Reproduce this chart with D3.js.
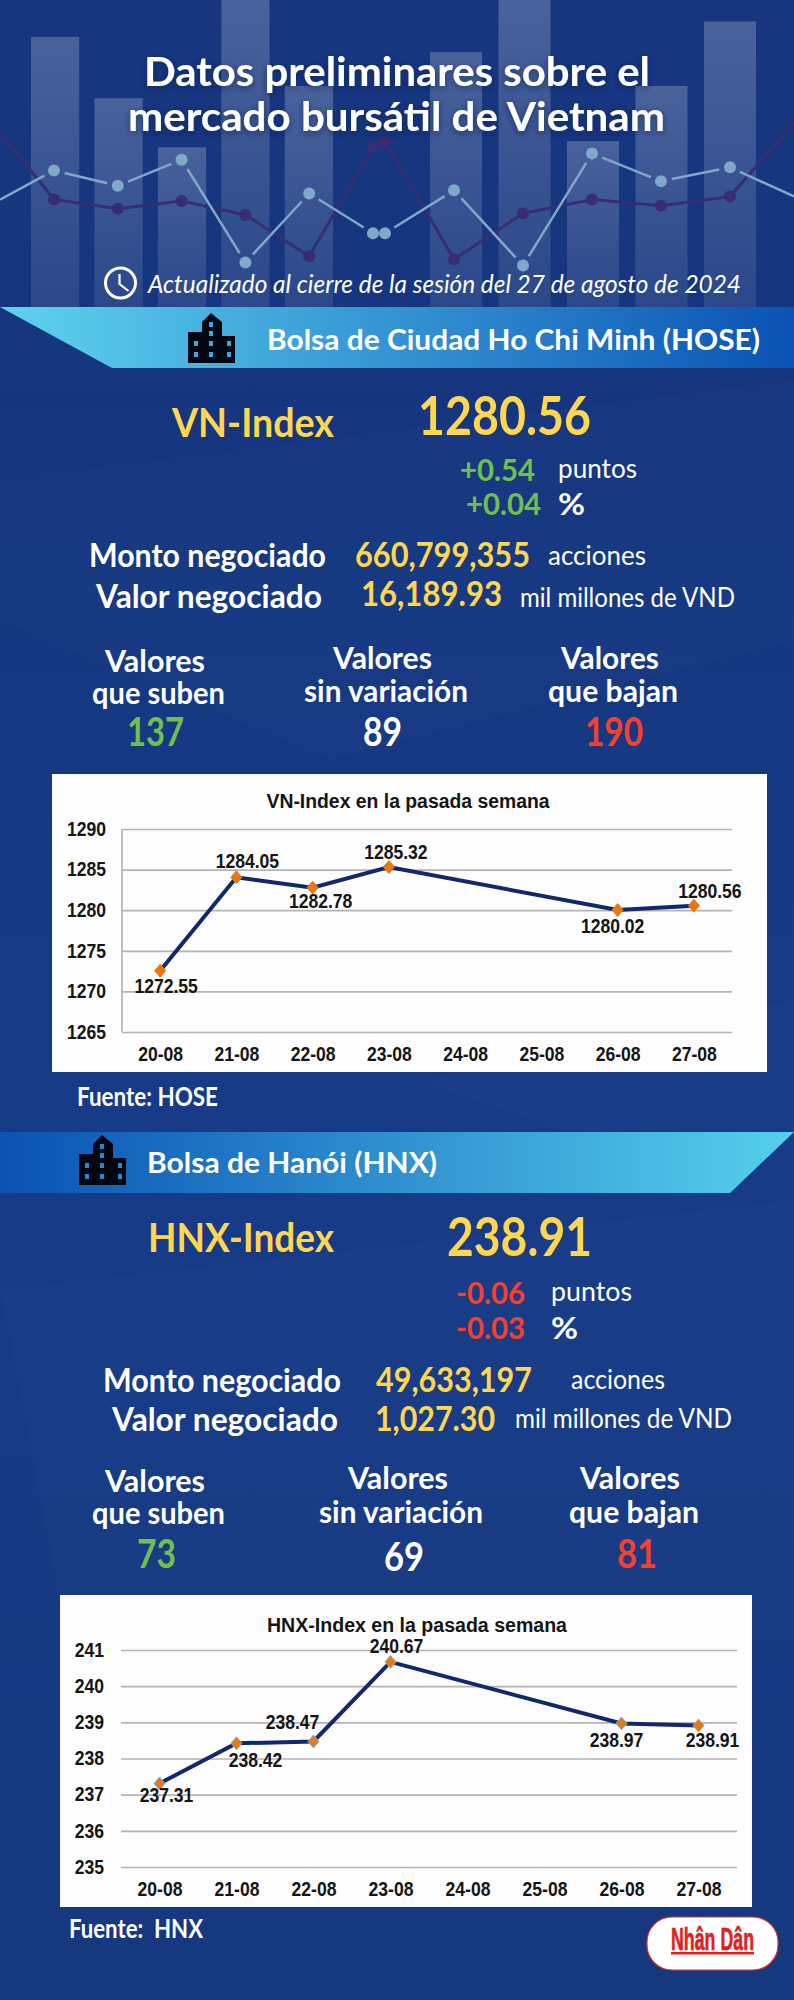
<!DOCTYPE html>
<html>
<head>
<meta charset="utf-8">
<script src="https://cdn.jsdelivr.net/npm/d3@7"></script>
<style>
    html, body { margin: 0; padding: 0; background: #163a85; }
    svg { display: block; }
    text { white-space: pre; }
</style>
</head>
<body>
<div id="chart"></div>
<script>
// chart values
const days = ["20-08", "21-08", "22-08", "23-08", "24-08", "25-08", "26-08", "27-08"];
const vnValues = [1272.55, 1284.05, 1282.78, 1285.32, null, null, 1280.02, 1280.56];
const vnTicks = [1265, 1270, 1275, 1280, 1285, 1290];
const hnxValues = [237.31, 238.42, 238.47, 240.67, null, null, 238.97, 238.91];
const hnxTicks = [235, 236, 237, 238, 239, 240, 241];

// decorative chart behind the title
const leftBars = [88, 68, 52, 100, 72];
const rightBars = [83, 100, 54, 72, 93];
const lightLine = [35, 44.5, 39.5, 48, 14.5, 37, 24, 24, 38, 13.5, 50, 41, 45.5, 36];
const darkLine = [57, 35, 32, 34.5, 30, 16.5, 52, 54, 15.5, 30.5, 35, 33, 36, 60];

const YELLOW = "#ffd64f", GREEN = "#6fc04c", RED = "#f4412f", WHITE = "#ffffff";
const BODY_FONT = "Lato, 'Open Sans', sans-serif";
const CHART_FONT = "'Liberation Sans', Arial, sans-serif";

const svg = d3.select("#chart").append("svg").attr("width", 794).attr("height", 2000);
const defs = svg.append("defs");

function gradient(id, stops, x2, y2) {
    const g = defs.append("linearGradient").attr("id", id)
        .attr("x1", 0).attr("y1", 0).attr("x2", x2).attr("y2", y2);
    stops.forEach(s => g.append("stop").attr("offset", s[0]).attr("stop-color", s[1]).attr("stop-opacity", s[2] === undefined ? 1 : s[2]));
}
gradient("bg", [[0, "#17367f"], [0.2, "#15367f"], [0.55, "#173b88"], [1, "#15387f"]], 0, 1);
gradient("barFade", [[0, "#ffffff", 0.22], [0.6, "#ffffff", 0.14], [1, "#ffffff", 0.09]], 0, 1);
gradient("band1", [[0, "#5ed3ef"], [1, "#0a52b4"]], 1, 0);
gradient("band2", [[0, "#0a52b4"], [1, "#55d0ec"]], 1, 0);
defs.append("filter").attr("id", "shadow").attr("x", "-10%").attr("y", "-30%").attr("width", "120%").attr("height", "160%")
    .append("feDropShadow").attr("dx", 0).attr("dy", 2).attr("stdDeviation", 3)
    .attr("flood-color", "#0a1c4d").attr("flood-opacity", 0.6);

svg.append("rect").attr("width", 794).attr("height", 2000).attr("fill", "url(#bg)");

// faint diagonal sheens in the background
const sheens = [
    "M0,480 L794,380 L794,640 L330,760 L0,620 Z",
    "M420,1080 L794,1000 L794,1130 L560,1130 Z",
    "M0,1290 L794,1200 L794,1640 L60,1600 Z"
];
svg.append("g").selectAll("path").data(sheens).join("path")
    .attr("d", d => d).attr("fill", "#ffffff").attr("opacity", 0.01);

// places one line of text so that it runs from x0 to x1
function label(str, x0, x1, y, size, fill, weight, parent) {
    return (parent || svg).append("text")
        .attr("x", x0).attr("y", y)
        .attr("textLength", x1 - x0).attr("lengthAdjust", "spacingAndGlyphs")
        .attr("font-family", BODY_FONT).attr("font-size", size)
        .attr("font-weight", weight || 700).attr("fill", fill)
        .text(str);
}

function drawHeader() {
    const g = svg.append("g");
    const yDeco = d3.scaleLinear().domain([0, 100]).range([307, 0]);
    const xLeft = d3.scaleBand().domain(d3.range(5)).range([31, 333]).paddingInner(0.24);
    const xRight = d3.scaleBand().domain(d3.range(5)).range([430, 756]).paddingInner(0.24);

    [[leftBars, xLeft], [rightBars, xRight]].forEach(([values, x]) => {
        g.append("g").selectAll("rect").data(values).join("rect")
            .attr("x", (d, i) => x(i)).attr("width", x.bandwidth())
            .attr("y", d => yDeco(d)).attr("height", d => 307 - yDeco(d))
            .attr("fill", "url(#barFade)");
    });

    // the two lines run over the bar centres, with a small jump in the middle gap
    const xLine = d3.scaleLinear().domain([0, 1, 6, 7, 12, 13]).range([0, 54, 373, 385, 730, 794]);
    const line = d3.line().x((d, i) => xLine(i)).y(d => yDeco(d));

    g.append("path").attr("d", line(darkLine)).attr("fill", "none").attr("stroke", "#382d72").attr("stroke-width", 3);
    g.append("g").selectAll("circle").data(darkLine.slice(1, 13)).join("circle")
        .attr("cx", (d, i) => xLine(i + 1)).attr("cy", d => yDeco(d)).attr("r", 6).attr("fill", "#382d72");

    // light line has a gap around each dot, and none between the two middle dots
    const segs = d3.pairs(lightLine.map((d, i) => [xLine(i), yDeco(d), i]));
    g.append("g").selectAll("line").data(segs.filter(s => s[0][2] !== 6)).join("line")
        .each(function ([a, b]) {
            const len = Math.hypot(b[0] - a[0], b[1] - a[1]);
            const ux = (b[0] - a[0]) / len, uy = (b[1] - a[1]) / len;
            const gapA = a[2] === 0 ? 0 : 11, gapB = b[2] === 13 ? 0 : 11;
            d3.select(this)
                .attr("x1", a[0] + ux * gapA).attr("y1", a[1] + uy * gapA)
                .attr("x2", b[0] - ux * gapB).attr("y2", b[1] - uy * gapB);
        })
        .attr("stroke", "#7fa8c9").attr("stroke-width", 2.5);
    g.append("g").selectAll("circle").data(lightLine.slice(1, 13)).join("circle")
        .attr("cx", (d, i) => xLine(i + 1)).attr("cy", d => yDeco(d)).attr("r", 6).attr("fill", "#7fa8c9");

    const title = svg.append("g").attr("filter", "url(#shadow)");
    label("Datos preliminares sobre el", 144, 650, 86, 41, WHITE, 700, title);
    label("mercado bursátil de Vietnam", 128, 665, 131, 41, WHITE, 700, title);

    // clock
    const clock = svg.append("g").attr("transform", "translate(120.5,283)");
    clock.append("circle").attr("r", 15).attr("fill", "none").attr("stroke", WHITE).attr("stroke-width", 3);
    clock.append("path").attr("d", "M-1,-9 L-1,1 L8,8").attr("fill", "none").attr("stroke", WHITE).attr("stroke-width", 2.2);

    label("Actualizado al cierre de la sesión del 27 de agosto de 2024", 148, 741, 293, 26, WHITE, 400).attr("font-style", "italic");
}

function drawBuilding(x, y, windowColor) {
    const g = svg.append("g").attr("transform", `translate(${x},${y})`);
    g.append("path").attr("fill", "#030712")
        .attr("d", "M23,0 L34,9 L34,23 L47,23 L47,50 L0,50 L0,19 L14,19 L14,9 Z");
    const cols = [6, 21, 39], rows = [28, 39];
    rows.forEach(r => cols.forEach(c => {
        g.append("rect").attr("x", c).attr("y", r).attr("width", 4).attr("height", 5).attr("fill", windowColor);
    }));
    [9, 18].forEach(r => g.append("rect").attr("x", 21).attr("y", r).attr("width", 4).attr("height", 5).attr("fill", windowColor));
}

function drawBands() {
    svg.append("path").attr("d", "M0,307 L794,307 L794,368 L112,368 Z").attr("fill", "url(#band1)");
    svg.append("path").attr("d", "M0,1132 L794,1132 L730,1193 L0,1193 Z").attr("fill", "url(#band2)");
    drawBuilding(188, 313, "#3fa7dc");
    drawBuilding(79, 1135, "#2a86d0");
    label("Bolsa de Ciudad Ho Chi Minh (HOSE)", 267, 760, 350, 29, WHITE, 700);
    label("Bolsa de Hanói (HNX)", 147, 437, 1173, 29, WHITE, 700);
}

function drawStats() {
    // HOSE
    label("VN-Index", 172, 334, 437, 40, YELLOW);
    label("1280.56", 418, 591, 435, 53, YELLOW);
    label("+0.54", 460, 535, 481, 31, GREEN);
    label("puntos", 558, 637, 478, 27, WHITE, 400);
    label("+0.04", 466, 541, 515, 31, GREEN);
    label("%", 558, 585, 515, 31, WHITE);
    label("Monto negociado", 89, 326, 567, 33, WHITE);
    label("660,799,355", 355, 530, 567, 34, YELLOW);
    label("acciones", 548, 646, 565, 27, WHITE, 400);
    label("Valor negociado", 96, 322, 608, 33, WHITE);
    label("16,189.93", 361, 502, 606, 34, YELLOW);
    label("mil millones de VND", 520, 735, 607, 27, WHITE, 400);
    label("Valores", 105, 205, 672, 30, WHITE);
    label("que suben", 92, 225, 704, 30, WHITE);
    label("137", 127, 184, 746, 40, GREEN);
    label("Valores", 333, 432, 669, 30, WHITE);
    label("sin variación", 304, 468, 702, 30, WHITE);
    label("89", 363, 402, 746, 40, WHITE);
    label("Valores", 561, 659, 669, 30, WHITE);
    label("que bajan", 548, 678, 702, 30, WHITE);
    label("190", 585, 643, 746, 40, RED);
    label("Fuente: HOSE", 77, 218, 1106, 26, WHITE);

    // HNX
    label("HNX-Index", 148, 334, 1252, 40, YELLOW);
    label("238.91", 447, 592, 1256, 53, YELLOW);
    label("-0.06", 456, 525, 1304, 31, RED);
    label("puntos", 551, 632, 1301, 27, WHITE, 400);
    label("-0.03", 456, 525, 1339, 31, RED);
    label("%", 551, 578, 1339, 31, WHITE);
    label("Monto negociado", 103, 341, 1392, 33, WHITE);
    label("49,633,197", 376, 532, 1392, 34, YELLOW);
    label("acciones", 571, 665, 1389, 27, WHITE, 400);
    label("Valor negociado", 112, 338, 1431, 33, WHITE);
    label("1,027.30", 375, 495, 1431, 34, YELLOW);
    label("mil millones de VND", 515, 732, 1428, 27, WHITE, 400);
    label("Valores", 105, 205, 1492, 30, WHITE);
    label("que suben", 92, 225, 1524, 30, WHITE);
    label("73", 137, 176, 1568, 40, GREEN);
    label("Valores", 348, 448, 1489, 30, WHITE);
    label("sin variación", 319, 483, 1523, 30, WHITE);
    label("69", 384, 424, 1571, 40, WHITE);
    label("Valores", 580, 680, 1489, 30, WHITE);
    label("que bajan", 569, 699, 1523, 30, WHITE);
    label("81", 617, 657, 1568, 40, RED);
    label("Fuente:  HNX", 69, 203, 1938, 26, WHITE);
}

// squeezes the chart text a little, the original is narrow and tall
function narrow(selection, factor) {
    selection.each(function () {
        this.setAttribute("textLength", this.getComputedTextLength() * factor);
        this.setAttribute("lengthAdjust", "spacingAndGlyphs");
    });
}

// Function to create one line chart on its white panel
function drawLineChart(cfg) {
    const x = d3.scalePoint().domain(days).range([cfg.left, cfg.right]).padding(0.5);
    const y = d3.scaleLinear().domain(d3.extent(cfg.ticks)).range([cfg.bottom, cfg.top]);
    const width = cfg.right - cfg.left;

    svg.append("rect")
        .attr("x", cfg.panel[0]).attr("y", cfg.panel[1])
        .attr("width", cfg.panel[2] - cfg.panel[0]).attr("height", cfg.panel[3] - cfg.panel[1])
        .attr("fill", "#fdfdfd");

    const g = svg.append("g");

    const yAxis = g.append("g").attr("transform", `translate(${cfg.left},0)`)
        .call(d3.axisLeft(y).tickValues(cfg.ticks).tickSize(-width).tickPadding(cfg.tickPad).tickFormat(d3.format("d")));
    yAxis.select(".domain").remove();
    yAxis.selectAll("line").attr("stroke", "#b4b4b4").attr("stroke-width", 1.7);

    if (cfg.axisLine) {
        g.append("line").attr("x1", cfg.left).attr("x2", cfg.left)
            .attr("y1", y.range()[1]).attr("y2", y.range()[0])
            .attr("stroke", "#b4b4b4").attr("stroke-width", 1.7);
    }

    const xAxis = g.append("g").attr("transform", `translate(0,${cfg.bottom})`)
        .call(d3.axisBottom(x).tickSize(0).tickPadding(15));
    xAxis.select(".domain").remove();

    g.selectAll(".tick text")
        .attr("font-family", CHART_FONT).attr("font-size", 19.5)
        .attr("font-weight", 700).attr("fill", "#151515")
        .call(narrow, 0.9);

    const points = days.map((d, i) => ({ day: d, value: cfg.values[i] })).filter(d => d.value !== null);

    g.append("path")
        .attr("d", d3.line().x(d => x(d.day)).y(d => y(d.value))(points))
        .attr("fill", "none").attr("stroke", "#10296c").attr("stroke-width", 4);

    g.selectAll(".marker").data(points).join("path")
        .attr("class", "marker")
        .attr("transform", d => `translate(${x(d.day)},${y(d.value)})`)
        .attr("d", "M0,-6.5 L5.5,0 L0,6.5 L-5.5,0 Z")
        .attr("fill", "#e8790f").attr("stroke", cfg.markerEdge).attr("stroke-width", 1);

    g.selectAll(".value").data(points).join("text")
        .attr("class", "value")
        .attr("x", (d, i) => x(d.day) + cfg.offsets[i][0])
        .attr("y", (d, i) => y(d.value) + cfg.offsets[i][1])
        .attr("text-anchor", "middle")
        .attr("font-family", CHART_FONT).attr("font-size", 19.5).attr("font-weight", 700)
        .attr("fill", "#151515")
        .text(d => d.value.toFixed(2))
        .call(narrow, 0.9);

    g.append("text")
        .attr("x", cfg.titlePos[0]).attr("y", cfg.titlePos[1])
        .attr("text-anchor", "middle")
        .attr("textLength", cfg.titleWidth).attr("lengthAdjust", "spacingAndGlyphs")
        .attr("font-family", CHART_FONT).attr("font-size", 20).attr("font-weight", 700)
        .attr("fill", "#151515")
        .text(cfg.title);
}

function drawLogo() {
    svg.append("rect")
        .attr("x", 647).attr("y", 1917).attr("width", 131).attr("height", 53).attr("rx", 25)
        .attr("fill", "#ffffff").attr("stroke", "#e3342a").attr("stroke-width", 1.2);
    svg.append("text")
        .attr("x", 671).attr("y", 1950)
        .attr("textLength", 83).attr("lengthAdjust", "spacingAndGlyphs")
        .attr("font-family", CHART_FONT).attr("font-size", 31).attr("font-weight", 700)
        .attr("fill", "#e1221c").attr("stroke", "#e1221c").attr("stroke-width", 0.7)
        .text("Nhân Dân");
    svg.append("rect").attr("x", 671).attr("y", 1952).attr("width", 83).attr("height", 2.5).attr("fill", "#e1221c");
}

drawHeader();
drawBands();
drawStats();

drawLineChart({
    title: "VN-Index en la pasada semana",
    titlePos: [408, 808], titleWidth: 283,
    panel: [52, 774, 767, 1072],
    left: 122, right: 732, top: 829, bottom: 1032,
    tickPad: 16, axisLine: true, markerEdge: "#e8790f",
    values: vnValues, ticks: vnTicks,
    offsets: [[6, 22], [11, -9], [8, 20], [7, -8], [-5, 23], [16, -8]]
});
drawLineChart({
    title: "HNX-Index en la pasada semana",
    titlePos: [417, 1632], titleWidth: 300,
    panel: [60, 1595, 752, 1907],
    left: 121, right: 737, top: 1650, bottom: 1867,
    tickPad: 17, axisLine: false, markerEdge: "#7fb0dc",
    values: hnxValues, ticks: hnxTicks,
    offsets: [[7, 19], [19, 24], [-21, -13], [6, -9], [-5, 24], [14, 21]]
});
drawLogo();
</script>
</body>
</html>
